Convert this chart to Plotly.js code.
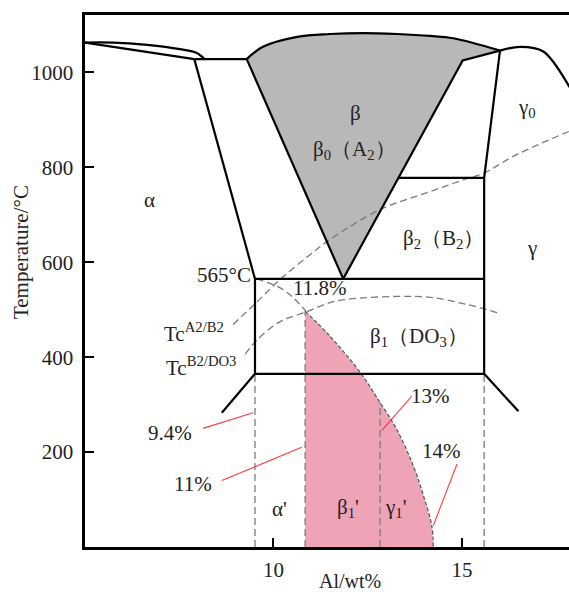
<!DOCTYPE html>
<html>
<head>
<meta charset="utf-8">
<script src="https://cdn.plot.ly/plotly-3.0.1.min.js"></script>
<style>html,body{margin:0;padding:0;overflow:hidden;background:#fff;}</style>
</head>
<body>
<div id="chart" style="width:580px;height:594px;"></div>
<script>
// ---- phase boundaries (Al wt%, temperature °C) ----
const alphaLiqX = [5.0, 5.74, 6.65, 7.52, 7.97, 8.13, 8.18];
const alphaLiqY = [1063, 1063, 1058, 1049, 1041, 1031, 1028];
const alphaSolX = [5.0, 7.9];
const alphaSolY = [1063, 1028];
const peritX = [7.9, 9.29];
const peritY = [1028, 1028];
const alphaSolvusX = [7.9, 9.51];
const alphaSolvusY = [1028, 565];

const betaLiqX = [9.29, 9.72, 10.63, 11.50, 12.38, 13.28, 14.16, 14.77, 16.01];
const betaLiqY = [1028, 1054, 1075, 1081, 1083, 1081, 1077, 1072, 1046];
const betaLeftX = [9.29, 11.85];
const betaLeftY = [1028, 565];
const betaRightX = [16.01, 15.02, 11.85];
const betaRightY = [1046, 1025, 565];

const gammaLiqX = [16.01, 16.55, 17.16, 17.85, 18.0];
const gammaLiqY = [1046, 1054, 1044, 970, 948];
const gammaLeftX = [16.01, 15.59, 15.59];
const gammaLeftY = [1046, 778, 365];
const b2LineX = [13.31, 15.59];
const b2LineY = [778, 778];
const eutX = [9.51, 15.59];
const eutY = [565, 565];
const boxLeftX = [9.51, 9.51];
const boxLeftY = [565, 365];
const line365X = [9.51, 15.59];
const line365Y = [365, 365];
const diagLX = [9.51, 8.63];
const diagLY = [365, 283];
const diagRX = [15.59, 16.50];
const diagRY = [365, 286];

// ---- ordering temperatures (dashed) ----
const tcA2B2X = [8.93, 9.57, 10.18, 10.97, 11.50, 12.83, 14.16, 15.13, 15.59, 16.36, 17.85, 18.0];
const tcA2B2Y = [469, 517, 564, 616, 648, 711, 749, 776, 788, 823, 876, 880];
const tcB2DO3X = [9.25, 9.57, 10.18, 10.89, 11.50, 11.95, 13.28, 14.16, 15.14, 15.93];
const tcB2DO3Y = [406, 437, 475, 496, 515, 522, 528, 526, 511, 494];
const cornerCurveX = [9.55, 10.18, 10.53, 10.86];
const cornerCurveY = [565, 546, 525, 497];

// ---- martensite region ----
const pinkCurveX = [10.84, 11.50, 12.30, 12.83, 13.27, 13.71, 13.98, 14.20, 14.24];
const pinkCurveY = [497, 444, 368, 304, 248, 171, 108, 45, 0];
const compLines = [9.51, 10.84, 12.83, 15.59];
const compTops = [365, 497, 304, 365];

// ---- red leader lines ----
const lead94X = [8.13, 9.46], lead94Y = [250, 283];
const lead11X = [8.63, 10.75], lead11Y = [140, 210];
const lead13X = [13.67, 12.87], lead13Y = [318, 245];
const lead14X = [14.87, 14.24], lead14Y = [175, 45];

// ---- labels ----
const labelText = ['α', 'β', 'β<sub>0</sub>（A<sub>2</sub>）', 'γ<sub>0</sub>', 'β<sub>2</sub>（B<sub>2</sub>）', 'γ',
  '11.8%', 'β<sub>1</sub>（DO<sub>3</sub>）', '9.4%', '11%', '13%', '14%', 'α\'', 'β<sub>1</sub>\'', 'γ<sub>1</sub>\''];
const labelX = [6.72, 12.17, 12.14, 16.72, 14.51, 16.87, 11.22, 13.85, 7.26, 7.87, 14.16, 14.47, 10.15, 11.97, 13.25];
const labelY = [732, 914, 837, 925, 648, 630, 545, 443, 241, 133, 319, 203, 80, 83, 83];
const rightLabels = ['565°C', 'Tc<sup>A2/B2</sup>', 'Tc<sup>B2/DO3</sup>'];
const rightLabelX = [9.45, 8.74, 9.05];
const rightLabelY = [574, 453, 381];

const xTicks = [10, 15];
const yTicks = [200, 400, 600, 800, 1000];

const FONT = "'Liberation Serif', 'Times New Roman', serif";
const traces = [];
function line(x, y, opts) {
  traces.push(Object.assign({x: x, y: y, type: 'scatter', mode: 'lines', hoverinfo: 'skip',
    showlegend: false, line: {color: '#000', width: 2.2}}, opts || {}));
}
// gray beta field
line(betaLeftX.concat(betaRightX.slice().reverse()).concat(betaLiqX.slice().reverse()),
     betaLeftY.concat(betaRightY.slice().reverse()).concat(betaLiqY.slice().reverse()),
     {fill: 'toself', fillcolor: '#b8b8b8', line: {width: 0, color: 'rgba(0,0,0,0)'}});
// pink field
line([pinkCurveX[0]].concat(pinkCurveX), [0].concat(pinkCurveY),
     {fill: 'toself', fillcolor: '#efa3b6', line: {width: 0, color: 'rgba(0,0,0,0)'}});

const dashGray = {color: '#7a7a7a', width: 1.3, dash: '7px,4px'};
compLines.forEach((c, i) => line([c, c], [0, compTops[i]], {line: dashGray}));
line(tcA2B2X, tcA2B2Y, {line: Object.assign({shape: 'spline'}, dashGray)});
line(tcB2DO3X, tcB2DO3Y, {line: Object.assign({shape: 'spline'}, dashGray)});
line(cornerCurveX, cornerCurveY, {line: Object.assign({shape: 'spline'}, dashGray)});
line(pinkCurveX, pinkCurveY, {line: {color: '#555', width: 1.2, dash: '4px,2px', shape: 'spline'}});

line(alphaLiqX, alphaLiqY, {line: {color: '#000', width: 2.2, shape: 'spline'}});
line(alphaSolX, alphaSolY);
line(peritX, peritY);
line(alphaSolvusX, alphaSolvusY);
line(betaLiqX, betaLiqY, {line: {color: '#000', width: 2.2, shape: 'spline'}});
line(betaLeftX, betaLeftY);
line(betaRightX, betaRightY);
line(gammaLiqX, gammaLiqY, {line: {color: '#000', width: 2.2, shape: 'spline'}});
line(gammaLeftX, gammaLeftY);
line(b2LineX, b2LineY);
line(eutX, eutY);
line(boxLeftX, boxLeftY);
line(line365X, line365Y);
line(diagLX, diagLY);
line(diagRX, diagRY);

const red = {color: '#ff3b3b', width: 1.1};
line(lead94X, lead94Y, {line: red});
line(lead11X, lead11Y, {line: red});
line(lead13X, lead13Y, {line: red});
line(lead14X, lead14Y, {line: red});

const annotations = [];
labelText.forEach((t, i) => annotations.push({x: labelX[i], y: labelY[i], xref: 'x', yref: 'y', text: t,
  showarrow: false, xanchor: 'center', yanchor: 'middle', font: {family: FONT, size: 21, color: '#222'}}));
rightLabels.forEach((t, i) => annotations.push({x: rightLabelX[i], y: rightLabelY[i], xref: 'x', yref: 'y', text: t,
  showarrow: false, xanchor: 'right', yanchor: 'middle', font: {family: FONT, size: 21, color: '#222'}}));
annotations.push({x: 12.03, y: -0.063, xref: 'x', yref: 'paper', text: 'Al/wt%', showarrow: false,
  xanchor: 'center', yanchor: 'middle', font: {family: FONT, size: 20, color: '#222'}});
annotations.push({x: -0.13, y: 622, xref: 'paper', yref: 'y', text: 'Temperature/°C', showarrow: false,
  textangle: -90, xanchor: 'center', yanchor: 'middle', font: {family: FONT, size: 21, color: '#222'}});

const axisCommon = {showline: true, mirror: true, linecolor: '#000', linewidth: 2.6, ticks: 'inside',
  ticklen: 9, tickwidth: 2, tickcolor: '#000', showgrid: false, zeroline: false,
  tickfont: {family: FONT, size: 21, color: '#222'}};
const layout = {
  width: 580, height: 594,
  margin: {l: 85, r: 5, t: 15, b: 47},
  paper_bgcolor: '#fff', plot_bgcolor: '#fff',
  font: {family: FONT},
  xaxis: Object.assign({range: [5, 18], tickvals: xTicks, ticktext: xTicks.map(String), ticklabelstandoff: 2}, axisCommon),
  yaxis: Object.assign({range: [0, 1121], tickvals: yTicks, ticktext: yTicks.map(String), ticklabelstandoff: 5}, axisCommon),
  annotations: annotations,
  showlegend: false
};
Plotly.newPlot('chart', traces, layout, {staticPlot: true});
</script>
</body>
</html>
